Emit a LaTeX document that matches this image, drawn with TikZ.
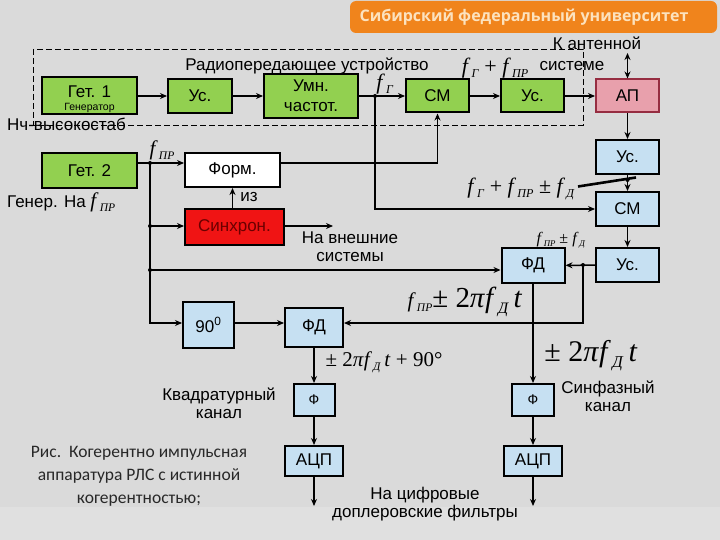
\documentclass[tikz,border=0pt]{standalone}
\usepackage{fontspec}
\usepackage{graphicx}
\setmainfont{Liberation Sans}
\newfontfamily\tms{Liberation Serif}
\newfontfamily\capf{Carlito}
\newfontfamily\banf{Open Sans}
\usetikzlibrary{arrows.meta,calc}
\definecolor{bgc}{RGB}{218,218,218}
\definecolor{bgl}{RGB}{224,224,224}
\definecolor{gfill}{RGB}{146,208,80}
\definecolor{bfill}{RGB}{198,224,242}
\definecolor{pfill}{RGB}{232,160,172}
\definecolor{pdraw}{RGB}{150,45,65}
\definecolor{rfill}{RGB}{240,20,20}
\definecolor{synctext}{HTML}{6A0000}
\definecolor{orng}{RGB}{240,132,28}
\definecolor{bantext}{RGB}{252,226,190}
\definecolor{captc}{RGB}{40,40,40}
\newcommand{\fv}[1]{\textit{f}\kern0.05em\raisebox{-0.45ex}{\scalebox{0.55}{\textit{#1}}}}
\newcommand{\nsz}{\fontsize{17}{18}\selectfont}
\tikzset{
  bx/.style={draw=black, line width=2pt, inner sep=1pt, align=center, font=\nsz},
  gbox/.style={bx, fill=gfill},
  bbox/.style={bx, fill=bfill},
  arr/.style={line width=1.5pt, -{Stealth[length=7pt,width=6pt]}},
  ln/.style={line width=1.5pt},
  arrboth/.style={line width=1.5pt, {Stealth[length=7pt,width=6pt]}-{Stealth[length=7pt,width=6pt]}},
  lbl/.style={inner sep=0pt, font=\nsz, align=center},
  mth/.style={inner sep=0pt, font=\tms\fontsize{22}{22}\selectfont},
  jdot/.style={circle, fill=black, inner sep=0pt, minimum size=4pt}
}
\begin{document}
\begin{tikzpicture}[x=1pt,y=-1pt]
\useasboundingbox (0,0) rectangle (720,540);
\fill[bgc] (0,0) rectangle (720,540);
\fill[bgl] (0,507) rectangle (720,540);
% banner
\fill[orng, rounded corners=6pt] (350,1) rectangle (717,33);
\node[inner sep=0pt, text=bantext, font=\banf\bfseries\fontsize{16}{16}\selectfont] (ban) at (524,17) {Сибирский федеральный университет};
% dashed transmitter box
\draw[line width=0.9pt, dash pattern=on 6pt off 3pt] (33,49) rectangle (583,125);
% coordinates
\coordinate (r163) at (0,163);
\coordinate (r323) at (0,323);
% top row
\node[gbox, minimum width=95pt, minimum height=37pt] (g1) at (89.5,96) {};
\node[lbl] (g1t) at (89.5,92) {Гет. 1};
\node[lbl, font=\fontsize{10.5}{11}\selectfont] (g1s) at (89.5,107.5) {Генератор};
\node[gbox, minimum width=64pt, minimum height=34pt] (us1) at (200,96) {Ус.};
\node[gbox, minimum width=94pt, minimum height=44pt, font=\fontsize{17}{20}\selectfont] (umn) at (311,96) {Умн.\\частот.};
\node[gbox, minimum width=63pt, minimum height=33pt] (cm1) at (437.5,96) {СМ};
\node[gbox, minimum width=63pt, minimum height=33pt] (us2) at (532.5,96) {Ус.};
\node[bx, fill=pfill, draw=pdraw, minimum width=63pt, minimum height=33pt] (ap) at (627.5,96) {АП};
% right column
\node[bbox, minimum width=63pt, minimum height=34pt] (usR1) at (627.5,157) {Ус.};
\node[bbox, minimum width=63pt, minimum height=34pt] (cmR) at (627.5,209) {СМ};
\node[bbox, minimum width=63pt, minimum height=34pt] (usR2) at (627.5,265) {Ус.};
\node[bbox, minimum width=63pt, minimum height=35pt] (fdR) at (533,265.5) {ФД};
% left column
\node[gbox, minimum width=95pt, minimum height=35pt] (g2) at (89.5,170.5) {Гет. 2};
\node[bx, fill=white, minimum width=95pt, minimum height=34pt] (form) at (232.5,170) {Форм.};
\node[bx, fill=rfill, text=synctext, minimum width=99pt, minimum height=36pt] (sync) at (234.5,227) {Синхрон.};
\node[bbox, minimum width=51pt, minimum height=46pt, anchor=north, inner sep=4pt] (p90) at (208.5,301) {90\textsuperscript{0}};
\node[bbox, minimum width=58pt, minimum height=39pt] (fdL) at (314,327.5) {ФД};
\node[bbox, minimum width=41pt, minimum height=32pt, font=\fontsize{14}{14}\selectfont] (fiL) at (314,400) {Ф};
\node[bbox, minimum width=58pt, minimum height=30pt] (adcL) at (314,461) {АЦП};
\node[bbox, minimum width=42pt, minimum height=32pt, font=\fontsize{14}{14}\selectfont] (fiR) at (533,400) {Ф};
\node[bbox, minimum width=58pt, minimum height=30pt] (adcR) at (533,461) {АЦП};
% junctions / free ends
\coordinate (jG) at (375,96);
\coordinate (jA) at (150,163);
\coordinate (jB) at (150,226);
\coordinate (jC) at (150,270);
\coordinate (jR) at (583,265);
\coordinate (jM) at (627.5,180);
\coordinate (ant) at (627.5,53);
\coordinate (ext) at (333,226);
\coordinate (outL) at (314,506);
\coordinate (outR) at (533,506);
\coordinate (pA) at (578,186.5);
\coordinate (pB) at (636,177.5);
% top row connectors
\draw[arr] (g1) -- (us1);
\draw[arr] (us1) -- (umn);
\draw[arr] (umn) -- (cm1);
\draw[arr] (cm1) -- (us2);
\draw[arr] (us2) -- (ap);
\draw[arrboth] (ant) -- (ap.north);
\draw[arr] (ap) -- (usR1);
\draw[arr] (usR1) -- (cmR);
\draw[arr] (cmR) -- (usR2);
\draw[arr] (usR2) -- (fdR);
\draw[line width=2.6pt] (pA) -- (pB);
% f_G branch
\draw[arr] (jG) |- (cmR.west);
% Form to CM
\draw[arr] (form.east |- r163) -| (cm1.south);
% generator 2 chain
\draw[arr] (g2.east |- r163) -- (form.west |- r163);
\draw[arr] (jA) |- (p90.west |- r323);
\draw[arr] (jB) -- (sync.west |- jB);
\draw[arr] (jC) -- (fdR.west |- jC);
\draw[arr] (sync.north -| form.south) -- (form.south);
\draw[arr] (sync.east |- ext) -- (ext);
% phase detectors
\draw[arr] (p90.east |- r323) -- (fdL.west |- r323);
\draw[arr] (jR) |- (fdL.east |- r323);
\draw[arr] (fdL) -- (fiL);
\draw[arr] (fiL) -- (adcL);
\draw[arr] (adcL) -- (outL);
\draw[arr] (fdR) -- (fiR);
\draw[arr] (fiR) -- (adcR);
\draw[arr] (adcR) -- (outR);
% dots
\foreach \p in {jG,jA,jB,jC,jR,jM} \node[jdot] at (\p) {};
% labels
\node[lbl] (tRad) at (307,66) {Радиопередающее устройство};
\node[lbl, anchor=west] (tNch) at (7,124) {Нч-высокостаб};
\node[lbl] (tK1) at (597,43) {К антенной};
\node[lbl] (tK2) at (572,66) {системе};
\node[mth] (mFg) at (385,84) {\fv{Г}};
\node[mth] (mFgp) at (495,68) {\fv{Г} + \fv{ПР}};
\node[mth, font=\tms\fontsize{21}{21}\selectfont] (mFp) at (162,150) {\fv{ПР}};
\node[lbl, anchor=west] (tGen) at (7,202) {Генер. На {\tms\fontsize{21}{21}\selectfont\fv{ПР}}};
\node[lbl] (tIz) at (249,197) {из};
\node[lbl] (tExt) at (350,247) {На внешние\\системы};
\node[mth] (mSum) at (521,189) {\fv{Г} + \fv{ПР} ± \fv{Д}};
\node[mth, font=\tms\fontsize{16}{16}\selectfont] (mIF) at (561,240) {\fv{ПР} ± \fv{Д}};
\node[mth, font=\tms\fontsize{29}{29}\selectfont] (mIF2) at (465,302) {{\fontsize{21}{21}\selectfont\fv{ПР}}± 2\textit{π}\fv{Д}\,\textit{t}};
\node[mth, font=\tms\fontsize{21}{21}\selectfont] (mQ) at (384,362) {± 2\textit{π}\fv{Д}\,\textit{t} + 90°};
\node[mth, font=\tms\fontsize{30}{30}\selectfont] (mI) at (591,356) {± 2\textit{π}\fv{Д}\,\textit{t}};
\node[lbl] (tQ) at (219,403) {Квадратурный\\канал};
\node[lbl] (tI) at (608,396) {Синфазный\\канал};
\node[lbl] (tDig) at (425,504) {На цифровые\\доплеровские фильтры};
\node[inner sep=0pt, align=center, text=captc, font=\capf\fontsize{17.5}{23}\selectfont] (cap) at (139,476) {Рис.\ \ Когерентно импульсная\\аппаратура РЛС с истинной\\когерентностью;};
\end{tikzpicture}
\end{document}
